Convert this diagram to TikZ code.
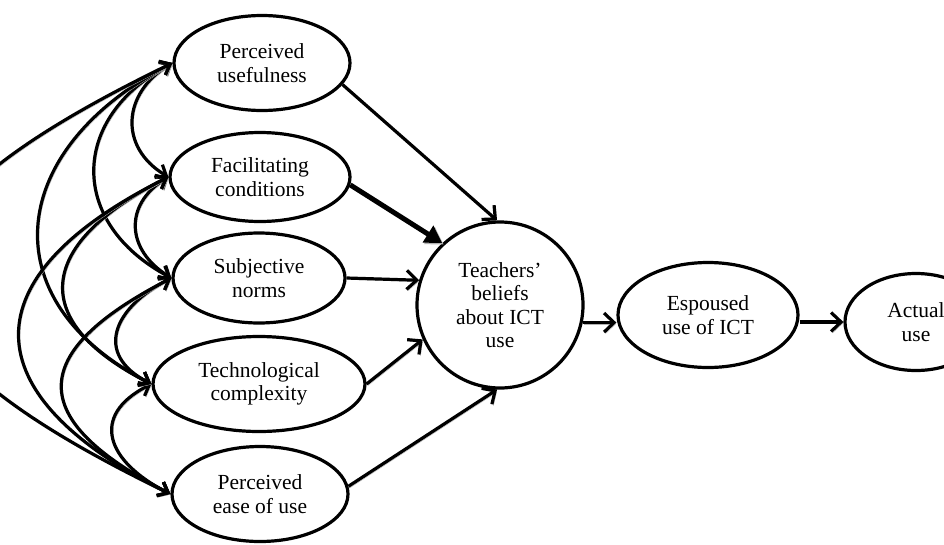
\documentclass[tikz,border=0pt]{standalone}
\usepackage{fontspec}
\setmainfont{Liberation Serif}
\usetikzlibrary{shapes.geometric,arrows.meta}
\tikzset{
    construct/.style = {draw, ellipse, line width=3.2pt, inner sep=0pt, align=center, font=\fontsize{21.5}{23.5}\selectfont},
    shadowed/.style = {preaction={draw=black!30, transform canvas={shift={(1.5pt,-1.5pt)}}}},
    path-arrow/.style = {shadowed, line width=3.2pt, -{Straight Barb[length=10pt,width=19pt]}},
    strong-arrow/.style = {shadowed, line width=5pt, -{Triangle[length=17pt,width=19pt]}},
    corr-arrow/.style = {shadowed, line width=3.2pt, {Straight Barb[length=9pt,width=15pt]}-{Straight Barb[length=9pt,width=15pt]}},
}

\begin{document}
\begin{tikzpicture}[x=1pt, y=-1pt]
\useasboundingbox (0,0) rectangle (944,544);
\clip (0,0) rectangle (944,544);

% constructs
\node[construct, minimum width=176pt, minimum height=95pt] (pu) at (262,63) {Perceived\\usefulness};
\node[construct, minimum width=180pt, minimum height=89pt] (fc) at (260,177) {Facilitating\\conditions};
\node[construct, minimum width=172pt, minimum height=90pt] (sn) at (259,278) {Subjective\\norms};
\node[construct, minimum width=212pt, minimum height=95pt] (tc) at (259,384) {Technological\\complexity};
\node[construct, minimum width=176pt, minimum height=95pt] (pe) at (260,494) {Perceived\\ease of use};
\node[construct, circle, minimum size=166pt] (tb) at (500,305) {Teachers'\\beliefs\\about ICT\\use};
\node[construct, minimum width=180pt, minimum height=105pt] (eu) at (708,315) {Espoused\\use of ICT};
\node[construct, minimum width=142pt, minimum height=97pt] (au) at (916,322) {Actual\\use};

% paths
\draw[path-arrow] (pu.-15) -- (tb.92);
\draw[strong-arrow] (fc.-5) -- (tb.133);
\draw[path-arrow] (sn.east) -- (tb.163);
\draw[path-arrow] (tc.east) -- (tb.204);
\draw[path-arrow] (pe.5) -- (tb.268);
\draw[path-arrow] (tb.-12) -- (tb.-12 -| eu.west);
\draw[path-arrow] (eu.east |- au.west) -- (au.west);

% correlations
\draw[corr-arrow] (pu.west) .. controls +(-50,30) and +(-50,-30) .. (fc.west);
\draw[corr-arrow] (fc.west) .. controls +(-45,28) and +(-45,-28) .. (sn.west);
\draw[corr-arrow] (sn.west) .. controls +(-58,30) and +(-58,-30) .. (tc.west);
\draw[corr-arrow] (tc.west) .. controls +(-63,32) and +(-63,-32) .. (pe.west);
\draw[corr-arrow] (pu.west) .. controls +(-103,55) and +(-103,-55) .. (sn.west);
\draw[corr-arrow] (fc.west) .. controls +(-128,65) and +(-128,-65) .. (tc.west);
\draw[corr-arrow] (sn.west) .. controls +(-145,75) and +(-145,-75) .. (pe.west);
\draw[corr-arrow] (pu.west) .. controls +(-164,85) and +(-164,-85) .. (tc.west);
\draw[corr-arrow] (fc.west) .. controls +(-200,100) and +(-200,-100) .. (pe.west);
\draw[corr-arrow] (pu.west) .. controls +(-330,160) and +(-330,-160) .. (pe.west);
\end{tikzpicture}
\end{document}
